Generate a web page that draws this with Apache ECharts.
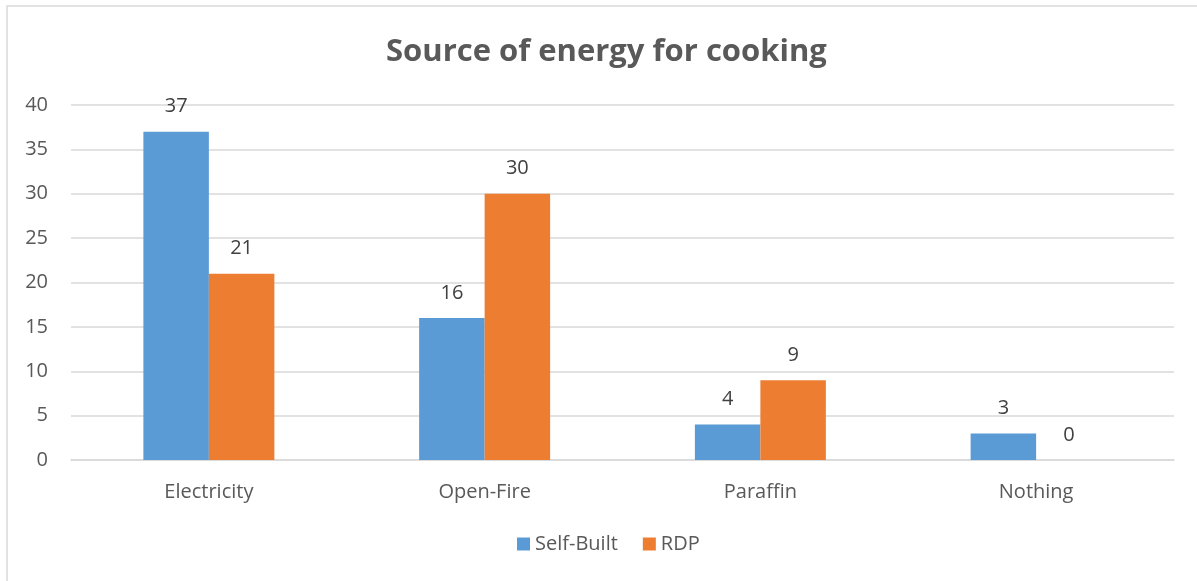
<!DOCTYPE html>
<html><head><meta charset="utf-8">
<script src="https://cdn.jsdelivr.net/npm/echarts@6/dist/echarts.min.js"></script>
<style>html,body{margin:0;padding:0;background:#fff}#c{width:1197px;height:581px}</style>
</head><body><div id="c"></div>
<script>
const categories = ['Electricity', 'Open-Fire', 'Paraffin', 'Nothing'];
const selfBuilt = [37, 16, 4, 3];
const rdp = [21, 30, 9, 0];
const yTicks = {min: 0, max: 40, interval: 5};

const chart = echarts.init(document.getElementById('c'));
const font = '"Open Sans", "Liberation Sans", sans-serif';
chart.setOption({
  animation: false,
  backgroundColor: '#fff',
  title: {
    text: 'Source of energy for cooking',
    left: 381, top: 32,
    textStyle: {fontFamily: font, fontSize: 31, fontWeight: 'bold', color: '#595959'}
  },
  graphic: [{
    type: 'rect', shape: {x: 7, y: 6, width: 1250, height: 700},
    style: {fill: 'none', stroke: '#d9d9d9', lineWidth: 1.5}, silent: true
  }],
  legend: {
    bottom: 22, left: 512,
    itemWidth: 13, itemHeight: 13, itemGap: 25, icon: 'rect',
    textStyle: {fontFamily: font, fontSize: 20, color: '#595959'},
    data: ['Self-Built', 'RDP']
  },
  grid: {left: 71, right: 23, top: 105, bottom: 121},
  xAxis: {
    type: 'category', data: categories,
    axisLine: {lineStyle: {color: '#d9d9d9', width: 1.5}},
    axisTick: {show: false},
    axisLabel: {fontFamily: font, fontSize: 20, color: '#595959', margin: 22}
  },
  yAxis: {
    type: 'value', min: yTicks.min, max: yTicks.max, interval: yTicks.interval,
    axisLine: {show: false}, axisTick: {show: false},
    splitLine: {lineStyle: {color: '#d9d9d9', width: 1.5}},
    axisLabel: {fontFamily: font, fontSize: 20, color: '#595959', margin: 23}
  },
  series: [
    {name: 'Self-Built', type: 'bar', data: selfBuilt, barGap: '0%', barCategoryGap: '52.5%',
     itemStyle: {color: '#5b9bd5'},
     label: {show: true, position: 'top', distance: 15, fontFamily: font, fontSize: 20, color: '#404040'}},
    {name: 'RDP', type: 'bar', data: rdp,
     itemStyle: {color: '#ed7d31'},
     label: {show: true, position: 'top', distance: 15, fontFamily: font, fontSize: 20, color: '#404040'}}
  ]
});
</script></body></html>
